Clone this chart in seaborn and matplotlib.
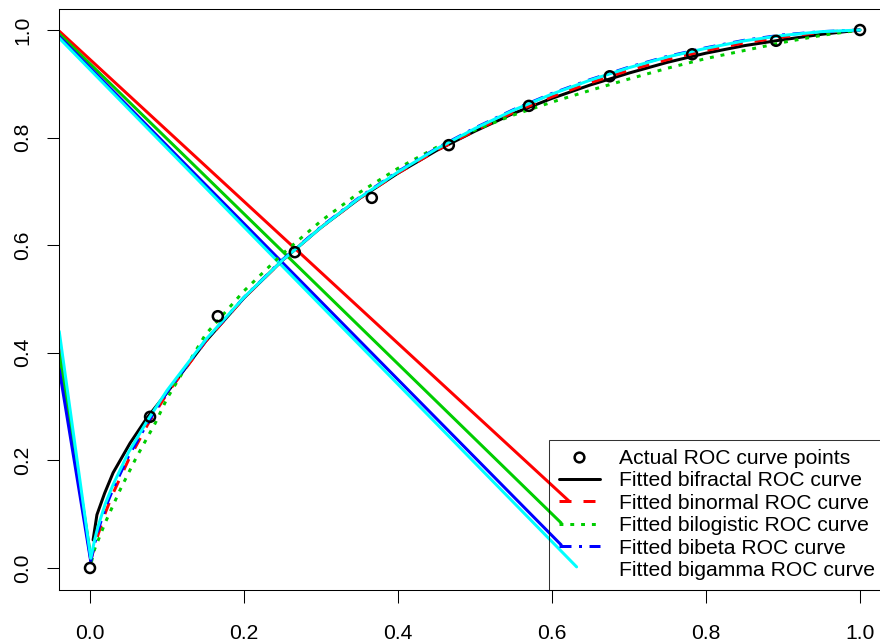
import matplotlib
matplotlib.use("Agg")
import matplotlib.pyplot as plt
from matplotlib.lines import Line2D
import seaborn as sns

# ---------------- data ----------------
fpr_points = [0.0, 0.078, 0.166, 0.266, 0.366, 0.466, 0.570, 0.675, 0.782, 0.891, 1.0]
tpr_points = [0.0, 0.281, 0.468, 0.587, 0.688, 0.786, 0.859, 0.914, 0.955, 0.980, 1.0]

x_bifractal = [0.004, 0.009, 0.019, 0.030, 0.052, 0.074, 0.1, 0.15, 0.2, 0.25, 0.3, 0.35, 0.4,
               0.45, 0.5, 0.55, 0.6, 0.65, 0.7, 0.75, 0.8, 0.85, 0.9, 0.95, 1.0]
y_bifractal = [0.052, 0.099, 0.139, 0.177, 0.232, 0.279, 0.326, 0.421, 0.502, 0.572, 0.633, 0.687, 0.734,
               0.776, 0.812, 0.845, 0.873, 0.898, 0.920, 0.940, 0.957, 0.971, 0.982, 0.992, 1.0]

x_grid = [0.001, 0.006, 0.01, 0.02, 0.03, 0.05, 0.075, 0.1, 0.15, 0.2, 0.25, 0.3, 0.35, 0.4,
          0.45, 0.5, 0.55, 0.6, 0.65, 0.7, 0.75, 0.8, 0.85, 0.9, 0.95, 1.0]
y_binormal = [0.015, 0.040, 0.060, 0.103, 0.139, 0.201, 0.267, 0.324, 0.421, 0.502, 0.572, 0.633, 0.687, 0.734,
              0.776, 0.813, 0.847, 0.876, 0.902, 0.925, 0.945, 0.962, 0.976, 0.987, 0.996, 1.0]
y_bibeta = [0.012, 0.045, 0.068, 0.112, 0.147, 0.208, 0.270, 0.327, 0.423, 0.503, 0.573, 0.634, 0.689, 0.737,
            0.780, 0.818, 0.852, 0.882, 0.908, 0.931, 0.951, 0.967, 0.981, 0.991, 0.997, 1.0]
y_bigamma = [0.018, 0.052, 0.075, 0.120, 0.155, 0.215, 0.275, 0.330, 0.424, 0.503, 0.572, 0.633, 0.688, 0.736,
             0.779, 0.817, 0.851, 0.881, 0.907, 0.930, 0.950, 0.966, 0.980, 0.990, 0.997, 1.0]

x_bilogistic = [0.002, 0.006, 0.02, 0.04, 0.06, 0.085, 0.1, 0.15, 0.2, 0.25, 0.3, 0.35, 0.4, 0.45, 0.5,
                0.55, 0.6, 0.65, 0.7, 0.75, 0.8, 0.85, 0.9, 0.95, 1.0]
y_bilogistic = [0.012, 0.035, 0.085, 0.148, 0.205, 0.270, 0.315, 0.434, 0.515, 0.584, 0.645, 0.698, 0.743, 0.782,
                0.814, 0.842, 0.866, 0.888, 0.909, 0.929, 0.947, 0.962, 0.977, 0.990, 1.0]

# stray connecting segments seen in the reference (left-edge start -> end)
stray_low_x = [[-0.04, 0.001], [-0.04, 0.002], [-0.04, 0.001], [-0.04, 0.001]]
stray_low_y = [[0.41, 0.015], [0.40, 0.012], [0.37, 0.012], [0.44, 0.018]]
stray_diag_x = [[-0.04, 0.622], [-0.04, 0.612], [-0.04, 0.612], [-0.04, 0.632]]
stray_diag_y = [[0.998, 0.1245], [0.993, 0.0836], [0.988, 0.0428], [0.985, 0.002]]
stray_colors = ["#FF0000", "#00CD00", "#0000FF", "#00FFFF"]

tick_vals = [0.0, 0.2, 0.4, 0.6, 0.8, 1.0]
tick_labels = ["0.0", "0.2", "0.4", "0.6", "0.8", "1.0"]
legend_labels = ["Actual ROC curve points", "Fitted bifractal ROC curve", "Fitted binormal ROC curve",
                 "Fitted bilogistic ROC curve", "Fitted bibeta ROC curve", "Fitted bigamma ROC curve"]

# ---------------- style ----------------
sns.set_style("ticks")
plt.rcParams["font.family"] = ["Liberation Sans", "DejaVu Sans"]
FS = 15.2
LW = 2.16

fig = plt.figure(figsize=(8.8, 6.44), dpi=100)
W, H = 880.0, 644.0
left_px, right_px, top_px, bot_px = 59.2, 890.8, 8.5, 589.5
ax = fig.add_axes([left_px / W, 1 - bot_px / H, (right_px - left_px) / W, (bot_px - top_px) / H])

# stray segments
for sx, sy, c in zip(stray_low_x, stray_low_y, stray_colors):
    sns.lineplot(x=sx, y=sy, sort=False, estimator=None, color=c, linewidth=LW, ax=ax)
for sx, sy, c in zip(stray_diag_x, stray_diag_y, stray_colors):
    sns.lineplot(x=sx, y=sy, sort=False, estimator=None, color=c, linewidth=LW, ax=ax)

# fitted curves
sns.lineplot(x=x_bifractal, y=y_bifractal, sort=False, estimator=None, color="black", linewidth=LW, ax=ax)
sns.lineplot(x=x_grid, y=y_binormal, sort=False, estimator=None, color="#FF0000", linewidth=LW,
             dashes=(4, 4), ax=ax)
sns.lineplot(x=x_bilogistic, y=y_bilogistic, sort=False, estimator=None, color="#00CD00", linewidth=LW,
             dashes=(1.3, 2.3), ax=ax)
sns.lineplot(x=x_grid, y=y_bibeta, sort=False, estimator=None, color="#0000FF", linewidth=LW,
             dashes=(4, 2.5, 1, 2.5), ax=ax)
sns.lineplot(x=x_grid, y=y_bigamma, sort=False, estimator=None, color="#00FFFF", linewidth=LW, ax=ax)

# actual points
sns.scatterplot(x=fpr_points, y=tpr_points, marker="o", s=52, facecolors="none",
                edgecolors="black", linewidths=1.8, ax=ax, zorder=5)

ax.set_xlim(-0.04, 1.04)
ax.set_ylim(-0.04, 1.04)
ax.set_xticks(tick_vals)
ax.set_xticklabels(tick_labels)
ax.set_yticks(tick_vals)
ax.set_yticklabels(tick_labels, rotation=90, va="center")
ax.tick_params(axis="both", direction="out", length=9, width=0.75, color="black",
               labelsize=FS, labelcolor="black")
ax.tick_params(axis="x", pad=15.5)
ax.tick_params(axis="y", pad=10.5)
for sp in ax.spines.values():
    sp.set_visible(True)
    sp.set_linewidth(0.75)
    sp.set_color("black")

handles = [
    Line2D([], [], linestyle="none", marker="o", markersize=7, markerfacecolor="none",
           markeredgecolor="black", markeredgewidth=1.8),
    Line2D([], [], color="black", linewidth=LW),
    Line2D([], [], color="#FF0000", linewidth=LW, dashes=(4, 4)),
    Line2D([], [], color="#00CD00", linewidth=LW, dashes=(1.3, 2.3)),
    Line2D([], [], color="#0000FF", linewidth=LW, dashes=(4, 2.5, 1, 2.5)),
    Line2D([], [], linestyle="none"),
]
leg = ax.legend(handles, legend_labels, loc="lower left",
                bbox_to_anchor=(549 / W, 1 - bot_px / H), bbox_transform=fig.transFigure,
                fontsize=FS, frameon=True, fancybox=False, borderpad=0.45, borderaxespad=0,
                handlelength=1.95, handletextpad=0.9, labelspacing=0.16, numpoints=1)
leg.get_frame().set_edgecolor("black")
leg.get_frame().set_facecolor("none")
leg.get_frame().set_linewidth(0.75)
for t in leg.get_texts():
    t.set_color("black")

fig.savefig("out.png", dpi=100)
